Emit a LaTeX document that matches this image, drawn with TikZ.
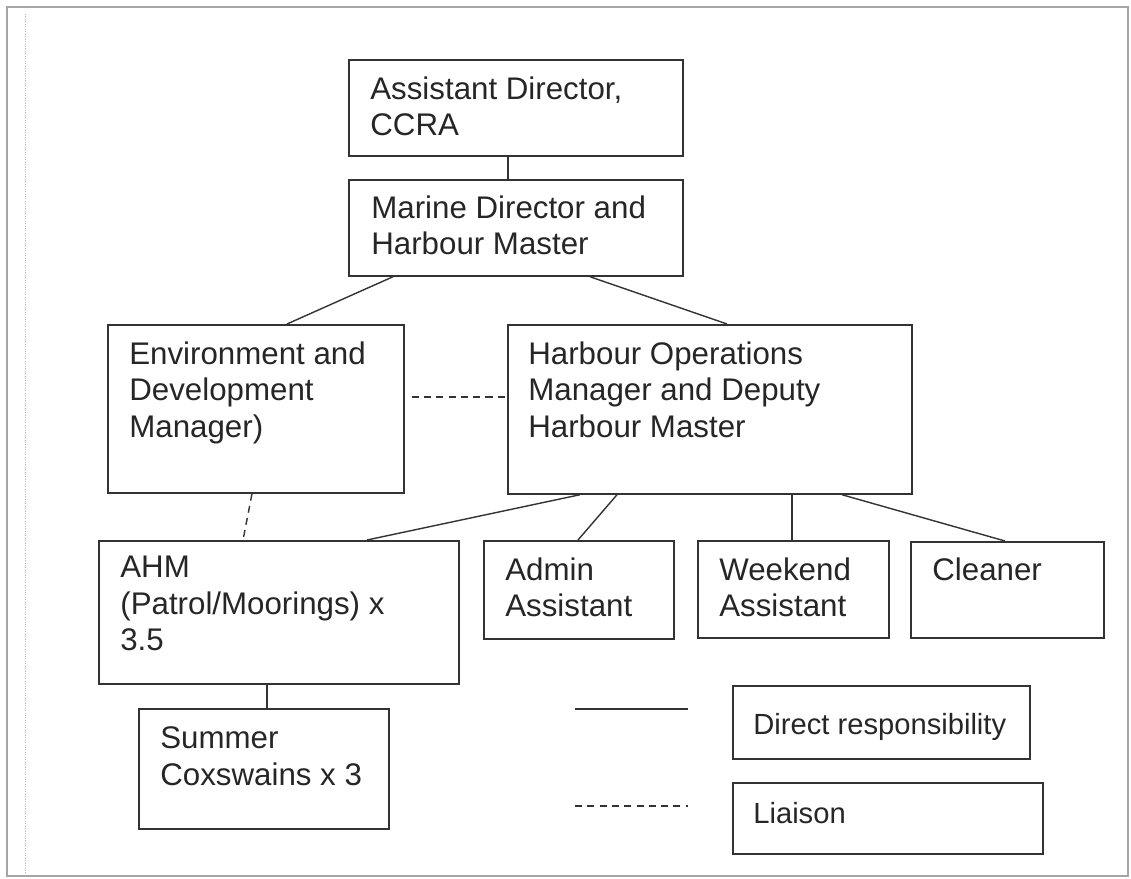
\documentclass[tikz,border=0pt]{standalone}
\usepackage{fontspec}
\setmainfont{Liberation Sans}
\tikzset{
  box/.style={draw=black!80, line width=1pt, anchor=north west, inner sep=0pt},
  txt/.style={anchor=north west, inner sep=0pt, align=left, text=black!85, font=\fontsize{17.8}{20.7}\selectfont},
  keytxt/.style={txt, font=\fontsize{16.6}{19.5}\selectfont},
  link/.style={draw=black!80, line width=0.8pt},
  liaison/.style={link, dash pattern=on 4pt off 3pt}
}
\begin{document}
\begin{tikzpicture}[x=0.02cm, y=-0.02cm]
\useasboundingbox (0,0) rectangle (1131,878);
\draw[gray!70, line width=0.6pt] (7,7) rectangle (1128,876);
\draw[gray!60, densely dotted] (25,14) -- (25,876);
\node[box, minimum width=6.68cm, minimum height=1.92cm] (adir) at (348,59) {};
\node[box, minimum width=6.68cm, minimum height=1.92cm] (marine) at (348,179) {};
\node[box, minimum width=5.92cm, minimum height=3.36cm] (envdev) at (107,324) {};
\node[box, minimum width=8.08cm, minimum height=3.38cm] (hops) at (507,324) {};
\node[box, minimum width=7.2cm, minimum height=2.86cm] (ahm) at (98,540) {};
\node[box, minimum width=3.8cm, minimum height=1.96cm] (admin) at (483,540) {};
\node[box, minimum width=3.82cm, minimum height=1.94cm] (weekend) at (697,540) {};
\node[box, minimum width=3.86cm, minimum height=1.92cm] (cleaner) at (910,541) {};
\node[box, minimum width=5cm, minimum height=2.4cm] (summer) at (138,708) {};
\node[box, minimum width=5.94cm, minimum height=1.46cm] (keydirect) at (732,685) {};
\node[box, minimum width=6.2cm, minimum height=1.42cm] (keyliaison) at (732,782) {};
\node[txt] (adir-t) at ([shift={(22,17.5)}]adir.north west) {Assistant Director,\\CCRA};
\node[txt] (marine-t) at ([shift={(23,16.5)}]marine.north west) {Marine Director and\\Harbour Master};
\node[txt] (envdev-t) at ([shift={(22,17.5)}]envdev.north west) {Environment and\\Development\\Manager)};
\node[txt] (hops-t) at ([shift={(21,17.5)}]hops.north west) {Harbour Operations\\Manager and Deputy\\Harbour Master};
\node[txt] (ahm-t) at ([shift={(22,16)}]ahm.north west) {AHM\\(Patrol/Moorings) x\\3.5};
\node[txt] (admin-t) at ([shift={(22,17.5)}]admin.north west) {Admin\\Assistant};
\node[txt] (weekend-t) at ([shift={(22,17.5)}]weekend.north west) {Weekend\\Assistant};
\node[txt] (cleaner-t) at ([shift={(22,16.5)}]cleaner.north west) {Cleaner};
\node[txt] (summer-t) at ([shift={(22,18.5)}]summer.north west) {Summer\\Coxswains x 3};
\node[keytxt] (keydirect-t) at ([shift={(21,28)}]keydirect.north west) {Direct responsibility};
\node[keytxt] (keyliaison-t) at ([shift={(21,20)}]keyliaison.north west) {Liaison};
\draw[link] ([shift={(160,0)}]adir.south west) -- ([shift={(160,0)}]marine.north west);
\draw[link] ([shift={(45,0)}]marine.south west) -- ([shift={(180,0)}]envdev.north west);
\draw[link] ([shift={(242,0)}]marine.south west) -- ([shift={(220,0)}]hops.north west);
\draw[liaison] ([shift={(7,73)}]envdev.north east) -- ([shift={(0,73)}]hops.north west);
\draw[liaison] ([shift={(145,0)}]envdev.south west) -- ([shift={(145,0)}]ahm.north west);
\draw[link] ([shift={(73,0)}]hops.south west) -- ([shift={(269,0)}]ahm.north west);
\draw[link] ([shift={(110,0)}]hops.south west) -- ([shift={(95,0)}]admin.north west);
\draw[link] ([shift={(285,0)}]hops.south west) -- ([shift={(95,0)}]weekend.north west);
\draw[link] ([shift={(335,0)}]hops.south west) -- ([shift={(95,0)}]cleaner.north west);
\draw[link] ([shift={(169,0)}]ahm.south west) -- ([shift={(129,0)}]summer.north west);
\coordinate (solid-a) at (575,709);
\coordinate (solid-b) at (688,709);
\coordinate (dash-a) at (575,806);
\coordinate (dash-b) at (688,806);
\draw[link] (solid-a) -- (solid-b);
\draw[liaison] (dash-a) -- (dash-b);
\end{tikzpicture}
\end{document}
